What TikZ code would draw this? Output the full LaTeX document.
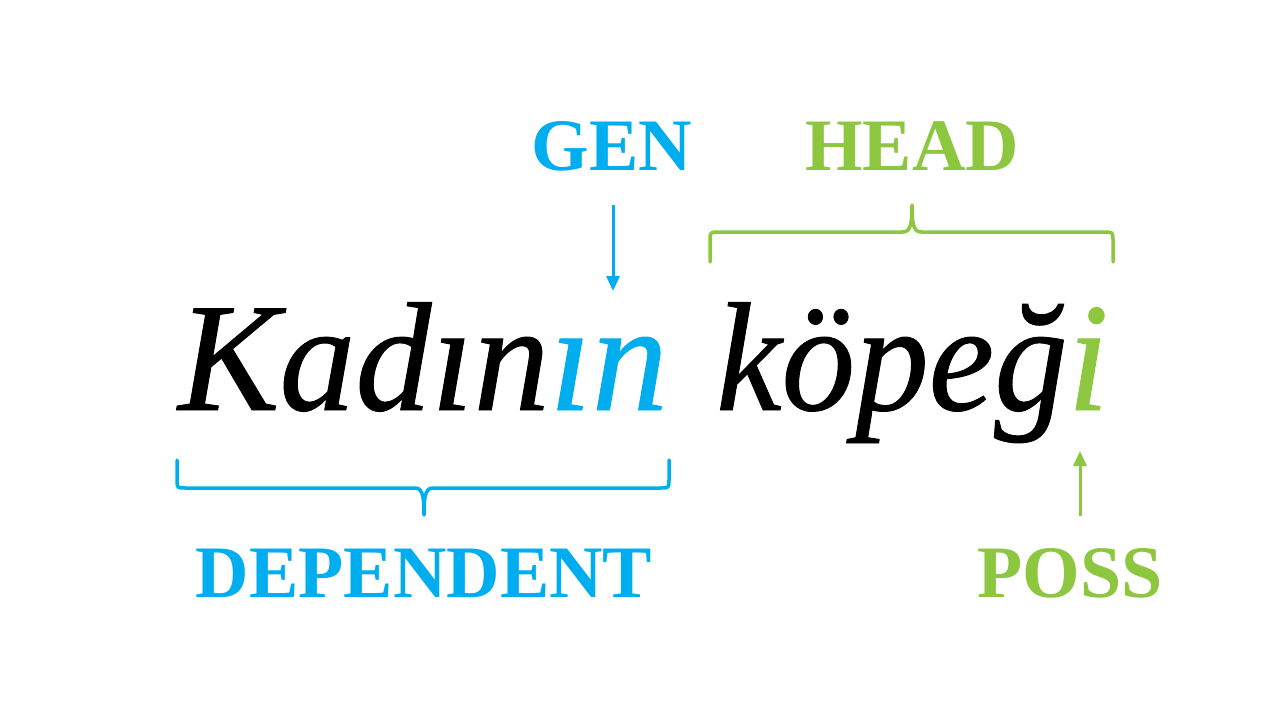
\documentclass[tikz,border=0pt]{standalone}
\usepackage{fontspec}
\setmainfont{Liberation Serif}
\newfontfamily\heavyit{Liberation Serif}[ItalicFeatures={FakeBold=0.6}]
\usetikzlibrary{arrows.meta}
\definecolor{gblue}{HTML}{00AEEF}
\definecolor{ggreen}{HTML}{8DC63F}
\tikzset{
  mainword/.style={inner sep=0pt, anchor=base west, font=\fontsize{155}{160}\selectfont\heavyit\itshape},
  tag/.style={inner sep=0pt, anchor=base, font=\fontsize{74}{80}\selectfont\bfseries},
  bracebl/.style={draw=gblue, line width=3.5pt, line cap=round, line join=round},
  bracegr/.style={draw=ggreen, line width=3.5pt, line cap=round, line join=round},
  ptr/.style={line width=3pt, -{Triangle[length=15pt,width=13pt]}}
}
\begin{document}
\begin{tikzpicture}[x=1pt,y=-1pt]
\useasboundingbox[fill=white] (0,0) rectangle (1280,720);
% main words
\node[mainword, xscale=0.98] (w1) at (178,410) {Kadın\textcolor{gblue}{ın}};
\node[mainword, xscale=0.95] (w2) at (716,410) {köpeğ\textcolor{ggreen}{i}};
% labels
\node[tag, text=gblue] (gen) at (612,170) {GEN};
\node[tag, text=ggreen] (head) at (912,170) {HEAD};
\node[tag, text=gblue] (dep) at (424,597) {DEPENDENT};
\node[tag, text=ggreen] (poss) at (1070,597) {POSS};
% arrows
\coordinate (genA) at (613,205);
\coordinate (genB) at (613,291);
\draw[ptr, draw=gblue, fill=gblue] (genA) -- (genB);
\coordinate (possA) at (1080,516);
\coordinate (possB) at (1080,451);
\draw[ptr, draw=ggreen, fill=ggreen] (possA) -- (possB);
% blue brace (below)
\coordinate (bL) at (177,460);
\coordinate (bR) at (669,460);
\coordinate (bM) at (424,515);
\draw[bracebl] (bL) -- (177,479) .. controls (177,488) .. (186,488) -- (414,488)
  .. controls (421,488) and (424,491) .. (bM)
  .. controls (424,491) and (427,488) .. (434,488)
  -- (660,488) .. controls (669,488) .. (669,479) -- (bR);
% green brace (above)
\coordinate (gL) at (710,262);
\coordinate (gR) at (1113,262);
\coordinate (gM) at (912,205);
\draw[bracegr] (gL) -- (710,241) .. controls (710,232) .. (719,232) -- (902,232)
  .. controls (909,232) and (912,229) .. (gM)
  .. controls (912,229) and (915,232) .. (922,232)
  -- (1104,232) .. controls (1113,232) .. (1113,241) -- (gR);
\end{tikzpicture}
\end{document}
